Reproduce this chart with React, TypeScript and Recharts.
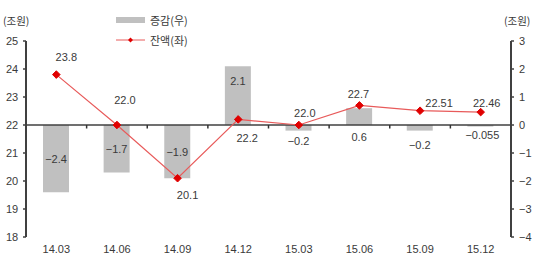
import React from 'react';
import { ComposedChart, Bar, Line, XAxis, YAxis, ReferenceLine, LabelList } from 'recharts';

const categories = ['14.03', '14.06', '14.09', '14.12', '15.03', '15.06', '15.09', '15.12'];
const changeValues = [-2.4, -1.7, -1.9, 2.1, -0.2, 0.6, -0.2, -0.055];
const balanceValues = [23.8, 22.0, 20.1, 22.2, 22.0, 22.7, 22.51, 22.46];
const changeLabels = ['−2.4', '−1.7', '−1.9', '2.1', '−0.2', '0.6', '−0.2', '−0.055'];
const balanceLabels = ['23.8', '22.0', '20.1', '22.2', '22.0', '22.7', '22.51', '22.46'];
const leftTicks = [18, 19, 20, 21, 22, 23, 24, 25];
const rightTicks = [-4, -3, -2, -1, 0, 1, 2, 3];
const rightTickLabels = ['−4', '−3', '−2', '−1', '0', '1', '2', '3'];

// label style offsets (relative to each mark)
const lineLabelOffsets: [number, number][] = [
  [10, -18], [8, -25], [10, 17], [9, 19], [6, -12], [-1, -11], [19, -8], [6, -9],
];
const barLabelModes = ['center', 'center', 'center', 'top', 'below', 'below', 'below', 'below'];
const barLabelBelow = [0, 0, 0, 0, 16, 12, 20, 10];

const data = categories.map((c, i) => ({
  cat: c,
  change: changeValues[i],
  balance: balanceValues[i],
  i,
}));

const FONT = '"Liberation Sans", Arial, "Noto Sans CJK KR", sans-serif';
const KFONT = '"Noto Sans CJK KR", "Liberation Sans", sans-serif';
const TXT = '#3a3a3a';

const Diamond = (props: any) => {
  const { cx, cy } = props;
  if (cx == null || cy == null) return null;
  const r = 3.8;
  return (
    <path
      d={`M${cx},${cy - r}L${cx + r},${cy}L${cx},${cy + r}L${cx - r},${cy}Z`}
      fill="#e00000"
      stroke="#e00000"
    />
  );
};

const MidAxis = (props: any) => {
  const { x1, y1, x2, y2 } = props;
  if (x1 == null) return null;
  const n = categories.length;
  const step = (x2 - x1) / n;
  const ticks = [];
  for (let i = 1; i < n; i++) {
    const x = x1 + step * i;
    ticks.push(<line key={i} x1={x} y1={y1} x2={x} y2={y1 + 3.5} stroke="#333" strokeWidth={1.5} />);
  }
  return (
    <g>
      <line x1={x1} y1={y1} x2={x2} y2={y2} stroke="#404040" strokeWidth={1.6} />
      {ticks}
    </g>
  );
};

const LineLabel = (props: any) => {
  const { x, y, index } = props;
  const [dx, dy] = lineLabelOffsets[index];
  return (
    <text x={x + dx} y={y + dy} textAnchor="middle" dominantBaseline="central" fontSize={11} fontFamily={FONT} fill={TXT}>
      {balanceLabels[index]}
    </text>
  );
};

const BarLabel = (props: any) => {
  const { x, y, width, height, index } = props;
  const mode = barLabelModes[index];
  const cx = x + width / 2;
  const top = Math.min(y, y + height);
  const bottom = Math.max(y, y + height);
  let ty: number;
  let tx = cx;
  if (mode === 'center') ty = (top + bottom) / 2;
  else if (mode === 'top') ty = top + 15;
  else {
    const zero = changeValues[index] >= 0 ? bottom : top;
    ty = zero + barLabelBelow[index];
  }
  if (index === 7) tx = cx + 2;
  return (
    <text x={tx} y={ty} textAnchor="middle" dominantBaseline="central" fontSize={11} fontFamily={FONT} fill={TXT}>
      {changeLabels[index]}
    </text>
  );
};

const LegendBlock = () => (
  <div style={{ position: 'absolute', left: 116, top: 10, fontFamily: KFONT, fontSize: 11, color: TXT, lineHeight: '20px' }}>
    <div style={{ display: 'flex', alignItems: 'center', height: 20 }}>
      <svg width={30} height={8} style={{ marginRight: 4 }}>
        <rect x={0} y={1} width={29} height={6} fill="#c0c0c0" />
      </svg>
      <span>증감(우)</span>
    </div>
    <div style={{ display: 'flex', alignItems: 'center', height: 20 }}>
      <svg width={30} height={8} style={{ marginRight: 4 }}>
        <line x1={0} y1={4} x2={29} y2={4} stroke="#e85a5a" strokeWidth={1} />
        <path d="M14.5,1.5L17,4L14.5,6.5L12,4Z" fill="#e00000" />
      </svg>
      <span>잔액(좌)</span>
    </div>
  </div>
);

export default function App() {
  return (
    <div style={{ position: 'absolute', left: 0, top: 0, width: 540, height: 263, background: '#fff' }}>
      <ComposedChart
        width={540}
        height={263}
        data={data}
        margin={{ top: 41, right: 0, bottom: 0, left: 0 }}
        barGap={0}
      >
        <XAxis
          dataKey="cat"
          xAxisId="x"
          axisLine={false}
          tickLine={false}
          height={26}
          interval={0}
          tick={{ fontSize: 11, fontFamily: FONT, fill: TXT, dy: 0 }}
        />
        <YAxis
          yAxisId="left"
          orientation="left"
          domain={[18, 25]}
          ticks={leftTicks}
          width={26}
          interval={0}
          axisLine={{ stroke: '#404040', strokeWidth: 2 }}
          tickLine={{ stroke: '#404040', strokeWidth: 1.5 }}
          tickSize={3}
          tickMargin={3}
          tick={{ fontSize: 11, fontFamily: FONT, fill: TXT, textAnchor: 'start', dx: -14 }}
        />
        <YAxis
          yAxisId="right"
          orientation="right"
          domain={[-4, 3]}
          ticks={rightTicks}
          width={29}
          interval={0}
          axisLine={{ stroke: '#404040', strokeWidth: 2 }}
          tickLine={{ stroke: '#404040', strokeWidth: 1.5 }}
          tickSize={3}
          tickMargin={5}
          tickFormatter={(v: number) => rightTickLabels[rightTicks.indexOf(v)]}
          tick={{ fontSize: 11, fontFamily: FONT, fill: TXT }}
        />
        <Bar
          dataKey="change"
          name="증감(우)"
          xAxisId="x"
          yAxisId="right"
          fill="#c0c0c0"
          barSize={26}
          isAnimationActive={false}
        >
          <LabelList dataKey="change" content={<BarLabel />} />
        </Bar>
        <ReferenceLine xAxisId="x" yAxisId="left" y={22} shape={<MidAxis />} ifOverflow="extendDomain" />
        <Line
          dataKey="balance"
          name="잔액(좌)"
          xAxisId="x"
          yAxisId="left"
          stroke="#e85a5a"
          strokeWidth={1.2}
          dot={<Diamond />}
          activeDot={false}
          isAnimationActive={false}
        >
          <LabelList dataKey="balance" content={<LineLabel />} />
        </Line>
      </ComposedChart>
      <div style={{ position: 'absolute', left: 3, top: 13, fontFamily: KFONT, fontSize: 10.5, color: TXT }}>(조원)</div>
      <div style={{ position: 'absolute', left: 504, top: 13, fontFamily: KFONT, fontSize: 10.5, color: TXT }}>(조원)</div>
      <LegendBlock />
    </div>
  );
}
